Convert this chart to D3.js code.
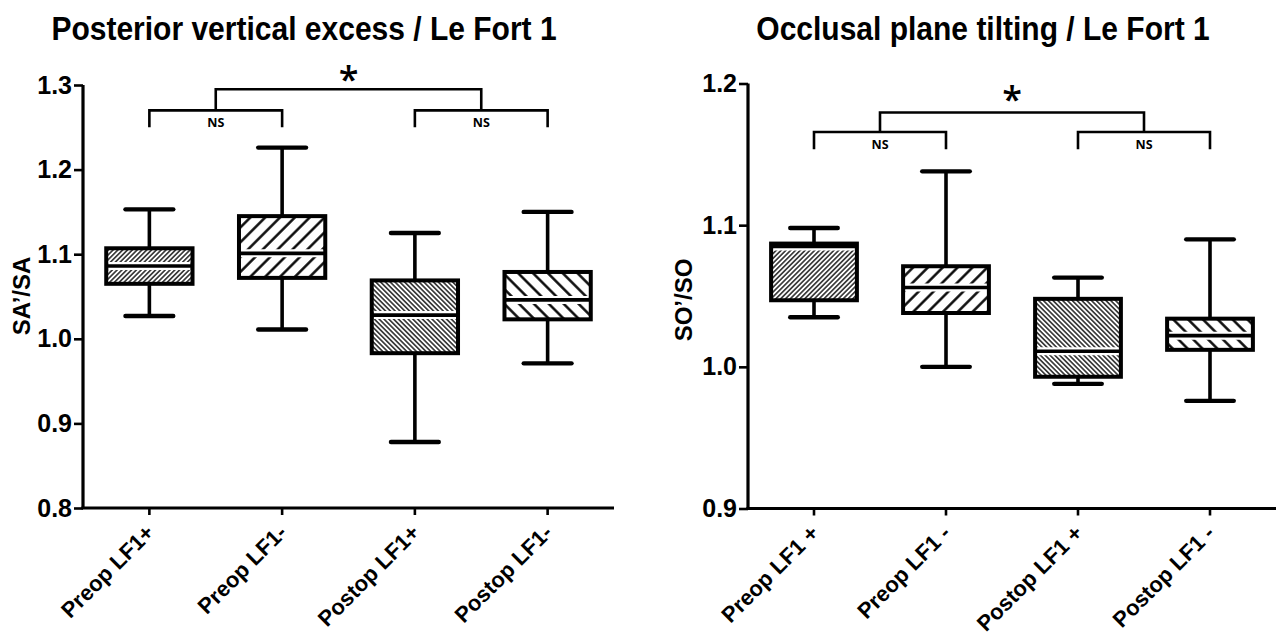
<!DOCTYPE html>
<html>
<head>
<meta charset="utf-8">
<script src="https://cdn.jsdelivr.net/npm/d3@7"></script>
<style>
  html, body { margin: 0; padding: 0; background: #fff; }
  svg { display: block; }
  .title { font-family: "Liberation Sans", Arial, sans-serif; font-weight: bold; }
  .tick-label { font-family: "Liberation Sans Narrow", "Liberation Sans", Arial, sans-serif; font-weight: bold; }
  .axis-title { font-family: "Liberation Sans", Arial, sans-serif; font-weight: bold; }
  .cat-label { font-family: "Liberation Sans", Arial, sans-serif; font-weight: bold; }
  .ns { font-family: "Open Sans", "Liberation Sans", sans-serif; font-weight: 700; }
  .star { font-family: "Open Sans", "Liberation Sans", sans-serif; font-weight: 600; }
</style>
</head>
<body>
<svg id="chart" width="1276" height="637"></svg>
<script>
// ---- Posterior vertical excess (SA'/SA) ----
const saCategories = ["Preop LF1+", "Preop LF1-", "Postop LF1+", "Postop LF1-"];
const saMin    = [1.027, 1.011, 0.878, 0.971];
const saQ1     = [1.065, 1.072, 0.983, 1.023];
const saMedian = [1.086, 1.101, 1.028, 1.046];
const saQ3     = [1.107, 1.145, 1.069, 1.079];
const saMax    = [1.153, 1.226, 1.125, 1.150];
const saTicks  = [0.8, 0.9, 1.0, 1.1, 1.2, 1.3];

// ---- Occlusal plane tilting (SO'/SO) ----
const soCategories = ["Preop LF1 +", "Preop LF1 -", "Postop LF1 +", "Postop LF1 -"];
const soMin    = [1.035, 1.000, 0.988, 0.976];
const soQ1     = [1.047, 1.038, 0.993, 1.012];
const soMedian = [1.085, 1.056, 1.011, 1.022];
const soQ3     = [1.087, 1.071, 1.048, 1.034];
const soMax    = [1.098, 1.138, 1.063, 1.090];
const soTicks  = [0.9, 1.0, 1.1, 1.2];

// hatch style per group: direction and density
const hatchStyles = ["fwd-dense", "fwd-sparse", "back-dense", "back-sparse"];

const svg = d3.select("#chart");
const defs = svg.append("defs");

function makeHatch(id, angle, spacing, width) {
  const p = defs.append("pattern")
    .attr("id", id)
    .attr("patternUnits", "userSpaceOnUse")
    .attr("width", spacing).attr("height", spacing)
    .attr("patternTransform", `rotate(${angle})`);
  p.append("rect").attr("width", spacing).attr("height", spacing).attr("fill", "#fff");
  p.append("line")
    .attr("x1", spacing / 2).attr("y1", -1)
    .attr("x2", spacing / 2).attr("y2", spacing + 1)
    .attr("stroke", "#000").attr("stroke-width", width);
}
makeHatch("fwd-dense", 45, 3.4, 1.3);
makeHatch("fwd-sparse", 45, 10.5, 2.4);
makeHatch("back-dense", -45, 3.4, 1.3);
makeHatch("back-sparse", -45, 10.5, 2.4);

function drawPanel(cfg) {
  const g = svg.append("g");
  const x = d3.scaleBand()
    .domain(cfg.categories)
    .range([cfg.x0, cfg.x1])
    .paddingInner(0.35)
    .paddingOuter(0.175);
  const y = d3.scaleLinear().domain(cfg.yDomain).range([cfg.yBottom, cfg.yTop]);
  const cx = c => x(c) + x.bandwidth() / 2;
  const step = x.step();

  // title
  g.append("text").attr("class", "title")
    .attr("transform", `translate(${cfg.titleX},40) scale(1,1.08)`)
    .attr("text-anchor", "middle")
    .attr("font-size", 30)
    .text(cfg.title);

  // y axis
  const yAxis = d3.axisLeft(y).tickValues(cfg.ticks)
    .tickFormat(d3.format(".1f")).tickSize(9).tickPadding(2);
  const ya = g.append("g").attr("transform", `translate(${cfg.x0},0)`).call(yAxis);
  ya.select(".domain").attr("stroke", "#000").attr("stroke-width", 3.2)
    .attr("d", `M0,${cfg.yTop}V${cfg.yBottom}`);
  ya.selectAll(".tick line").attr("stroke", "#000").attr("stroke-width", 2.6);
  ya.selectAll(".tick text").attr("class", "tick-label")
    .attr("font-size", 25).attr("fill", "#000");

  // y axis title
  g.append("text").attr("class", "axis-title")
    .attr("transform", `translate(${cfg.yTitleX},${cfg.yTitleY}) rotate(-90)`)
    .attr("text-anchor", "middle")
    .attr("font-size", 24)
    .text(cfg.yTitle);

  // x axis
  const xa = g.append("g").attr("transform", `translate(0,${cfg.yBottom})`);
  xa.append("line").attr("x1", cfg.x0 - 1.6).attr("x2", cfg.x1)
    .attr("stroke", "#000").attr("stroke-width", 3.2);
  xa.selectAll("line.xt").data(cfg.categories).join("line").attr("class", "xt")
    .attr("x1", d => cx(d)).attr("x2", d => cx(d))
    .attr("y1", 0).attr("y2", 7)
    .attr("stroke", "#000").attr("stroke-width", 2.6);
  xa.selectAll("text").data(cfg.categories).join("text").attr("class", "cat-label")
    .attr("transform", d => `translate(${cx(d) + 6},${26}) rotate(-45)`)
    .attr("text-anchor", "end")
    .attr("font-size", 22)
    .text(d => d);

  // boxes
  const data = cfg.categories.map((c, i) => ({
    c, min: cfg.min[i], q1: cfg.q1[i], med: cfg.median[i], q3: cfg.q3[i], max: cfg.max[i], hatch: hatchStyles[i]
  }));
  const capW = step * 0.36;
  const boxes = g.selectAll("g.box").data(data).join("g").attr("class", "box");
  // whiskers
  boxes.append("line")
    .attr("x1", d => cx(d.c)).attr("x2", d => cx(d.c))
    .attr("y1", d => y(d.max)).attr("y2", d => y(d.min))
    .attr("stroke", "#000").attr("stroke-width", 3.6);
  boxes.append("line")
    .attr("x1", d => cx(d.c) - capW / 2).attr("x2", d => cx(d.c) + capW / 2)
    .attr("y1", d => y(d.max)).attr("y2", d => y(d.max))
    .attr("stroke", "#000").attr("stroke-width", 4.4).attr("stroke-linecap", "round");
  boxes.append("line")
    .attr("x1", d => cx(d.c) - capW / 2).attr("x2", d => cx(d.c) + capW / 2)
    .attr("y1", d => y(d.min)).attr("y2", d => y(d.min))
    .attr("stroke", "#000").attr("stroke-width", 4.4).attr("stroke-linecap", "round");
  // hatched body
  boxes.append("rect")
    .attr("x", d => x(d.c)).attr("width", x.bandwidth())
    .attr("y", d => y(d.q3)).attr("height", d => y(d.q1) - y(d.q3))
    .attr("fill", d => `url(#${d.hatch})`);
  // white clearance round the median
  boxes.append("line")
    .attr("x1", d => x(d.c) + 2).attr("x2", d => x(d.c) + x.bandwidth() - 2)
    .attr("y1", d => y(d.med)).attr("y2", d => y(d.med))
    .attr("stroke", "#fff").attr("stroke-width", 8);
  // box outline
  boxes.append("rect")
    .attr("x", d => x(d.c)).attr("width", x.bandwidth())
    .attr("y", d => y(d.q3)).attr("height", d => y(d.q1) - y(d.q3))
    .attr("fill", "none")
    .attr("stroke", "#000").attr("stroke-width", 4);
  // median rule
  boxes.append("line")
    .attr("x1", d => x(d.c)).attr("x2", d => x(d.c) + x.bandwidth())
    .attr("y1", d => y(d.med)).attr("y2", d => y(d.med))
    .attr("stroke", "#000").attr("stroke-width", 3.6);

  // significance brackets
  const b = cfg.bracket;
  const ann = g.append("g").attr("fill", "none").attr("stroke", "#000").attr("stroke-width", 2.6);
  const pairs = [[cfg.categories[0], cfg.categories[1]], [cfg.categories[2], cfg.categories[3]]];
  const mids = [];
  pairs.forEach(([a, c]) => {
    const xa1 = cx(a), xa2 = cx(c);
    mids.push((xa1 + xa2) / 2);
    ann.append("path")
      .attr("d", `M${xa1},${y(b.leg)}V${y(b.low)}H${xa2}V${y(b.leg)}`);
    g.append("text").attr("class", "ns")
      .attr("x", (xa1 + xa2) / 2).attr("y", y(b.ns))
      .attr("text-anchor", "middle").attr("dominant-baseline", "middle")
      .attr("font-size", 12.5).text("NS");
  });
  ann.append("path")
    .attr("d", `M${mids[0]},${y(b.low)}V${y(b.high)}H${mids[1]}V${y(b.low)}`);
  g.append("text").attr("class", "star")
    .attr("x", (mids[0] + mids[1]) / 2).attr("y", y(b.star) + 19)
    .attr("text-anchor", "middle")
    .attr("font-size", 36).text("*");
}

drawPanel({
  title: "Posterior vertical excess / Le Fort 1", titleX: 304,
  categories: saCategories,
  min: saMin, q1: saQ1, median: saMedian, q3: saQ3, max: saMax,
  ticks: saTicks, yDomain: [0.8, 1.3],
  x0: 83, x1: 614, yBottom: 508, yTop: 85,
  yTitle: "SA\u2019/SA", yTitleX: 30, yTitleY: 296,
  bracket: { leg: 1.250, low: 1.270, high: 1.295, ns: 1.254, star: 1.314 }
});

drawPanel({
  title: "Occlusal plane tilting / Le Fort 1", titleX: 983,
  categories: soCategories,
  min: soMin, q1: soQ1, median: soMedian, q3: soQ3, max: soMax,
  ticks: soTicks, yDomain: [0.9, 1.2],
  x0: 748, x1: 1276, yBottom: 508.5, yTop: 83.5,
  yTitle: "SO\u2019/SO", yTitleX: 692, yTitleY: 300,
  bracket: { leg: 1.1536, low: 1.1658, high: 1.1795, ns: 1.156, star: 1.193 }
});
</script>
</body>
</html>
